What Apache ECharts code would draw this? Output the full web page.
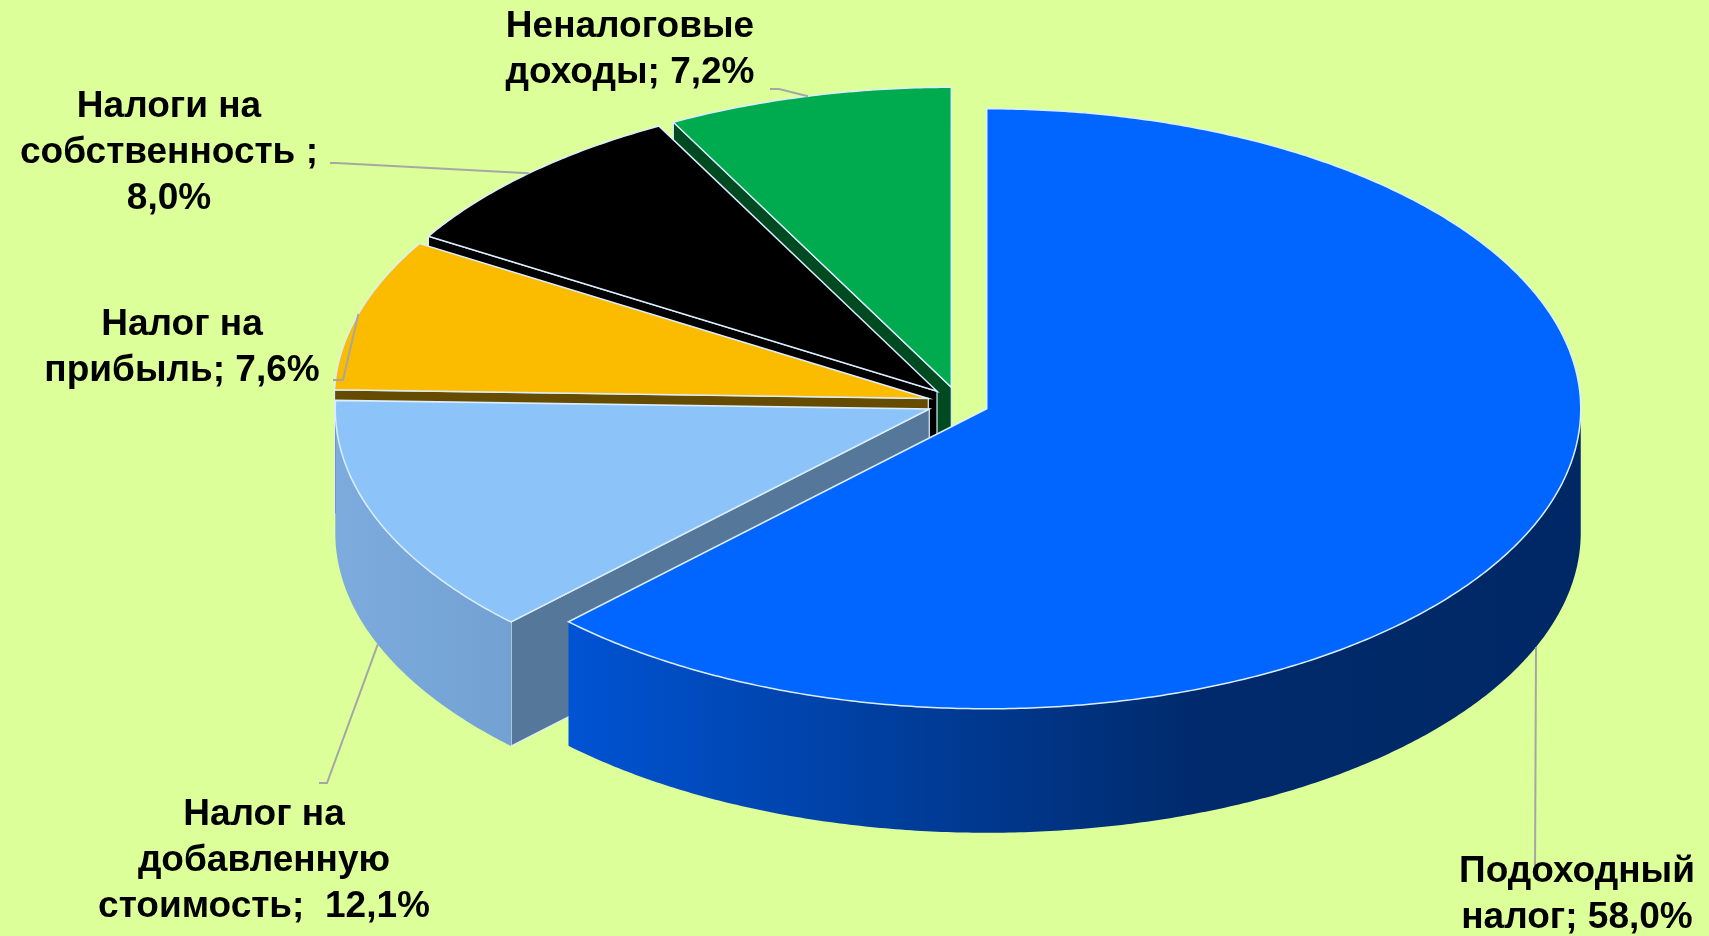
<!DOCTYPE html>
<html><head><meta charset="utf-8">
<script src="https://cdn.jsdelivr.net/npm/echarts@6/dist/echarts.min.js"></script>
<style>html,body{margin:0;padding:0;background:#dcff9a;}#c{width:1709px;height:936px;}</style>
</head><body><div id="c"></div>
<script>
// ---- data ----
const categories = ['Подоходный налог', 'Налог на добавленную стоимость', 'Налог на прибыль', 'Налоги на собственность ', 'Неналоговые доходы'];
const values = [58.0, 12.1, 7.6, 8.0, 7.2];
const labelNames = ['Подоходный\nналог; ', 'Налог на\nдобавленную\nстоимость;  ', 'Налог на\nприбыль; ', 'Налоги на\nсобственность ;\n', 'Неналоговые\nдоходы; '];

// ---- layout / style config ----
const CX = 959, CY = 403, RX = 594, RY = 300, H = 124;
const explode = [30, 32, 32, 32, 32];
const topColors = ['#0066ff', '#8cc4fa', '#fbbc00', '#000000', '#00aa4f'];
const cutColors = ['#1a4aa0', '#557799', '#664c00', '#000000', '#004a22'];
const wallColors = [
  [[0, '#0053d4'], [0.35, '#003c98'], [0.62, '#002a6c'], [1, '#002865']],
  [[0, '#7dabde'], [1, '#72a1d2']],
  [[0, '#b58a00'], [1, '#9a7500']],
  [[0, '#000000'], [1, '#000000']],
  [[0, '#007a38'], [1, '#006a30']]
];
const labelAnchors = [[1577, 872], [264, 815], [182, 325], [169, 107], [630, 27]];
const leaderTails = [[[1535, 877]], [[327, 783], [319, 783]], [[343, 380], [333, 380]], [[336, 163], [330, 163]], [[779, 89], [770, 89]]];
const LH = 46;

const total = values.reduce((a, b) => a + b, 0);
const cum = []; let acc = 0; values.forEach(v => { cum.push(acc); acc += v; });
const TAU = Math.PI * 2, DEG = Math.PI / 180;

function pt(c, t, dz) { return [c[0] + RX * Math.sin(t), c[1] - RY * Math.cos(t) + (dz || 0)]; }
function arc(c, a, b, dz) {
  const n = Math.max(2, Math.ceil((b - a) / (0.5 * DEG)));
  const out = [];
  for (let k = 0; k <= n; k++) out.push(pt(c, a + (b - a) * k / n, dz));
  return out;
}
function meanY(pts) { return pts.reduce((s, p) => s + p[1], 0) / pts.length; }

function renderItem(params, api) {
  const i = params.dataIndex;
  const v = api.value(0);
  const a0 = cum[i] / total * TAU, a1 = (cum[i] + v) / total * TAU, m = (a0 + a1) / 2;
  const d = explode[i];
  const c = [CX + d * Math.sin(m), CY - d * Math.cos(m) * RY / RX];
  const cb = [c[0], c[1] + H];
  const children = [];
  const edge = '#dbeeff';
  // outer wall
  const wa = Math.max(a0, 90 * DEG), wb = Math.min(a1, 270 * DEG);
  if (wa < wb) {
    const pts = arc(c, wa, wb, 0).concat(arc(c, wa, wb, H).reverse());
    children.push({
      type: 'polygon', shape: { points: pts }, z2: Math.round(meanY(pts)) + 60,
      style: { fill: { type: 'linear', x: 0, y: 0, x2: 1, y2: 0, colorStops: wallColors[i].map(s => ({ offset: s[0], color: s[1] })) }, stroke: null }
    });
  }
  // cut faces
  if (Math.sin(a0) < -1e-6) {
    const p = pt(c, a0, 0);
    const pts = [c, p, [p[0], p[1] + H], cb];
    children.push({ type: 'polygon', shape: { points: pts }, z2: Math.round(meanY(pts)),
      style: { fill: cutColors[i], stroke: edge, lineWidth: 1.2 } });
  }
  if (Math.sin(a1) > 1e-6) {
    const p = pt(c, a1, 0);
    const pts = [c, p, [p[0], p[1] + H], cb];
    children.push({ type: 'polygon', shape: { points: pts }, z2: Math.round(meanY(pts)),
      style: { fill: cutColors[i], stroke: edge, lineWidth: 1.2 } });
  }
  // top face
  const top = [c].concat(arc(c, a0, a1, 0));
  children.push({ type: 'polygon', shape: { points: top }, z2: 5000,
    style: { fill: topColors[i], stroke: edge, lineWidth: 1.5 } });
  // leader line
  const front = Math.cos(m) < 0;
  const att = pt(c, m, front ? H : 0);
  children.push({ type: 'polyline', shape: { points: [att].concat(leaderTails[i]) }, z2: 6000,
    style: { stroke: '#a6a6a6', lineWidth: 2, fill: null } });
  // label
  const txt = labelNames[i] + v.toFixed(1).replace('.', ',') + '%';
  children.push({ type: 'text', z2: 6001, style: {
    text: txt, x: labelAnchors[i][0], y: labelAnchors[i][1] - LH / 2,
    align: 'center', verticalAlign: 'top', lineHeight: LH,
    fill: '#000000', fontSize: 37, fontWeight: 'bold', fontFamily: '"Liberation Sans", Arial, sans-serif'
  } });
  return { type: 'group', children: children };
}

const chart = echarts.init(document.getElementById('c'), null, { renderer: 'canvas' });
chart.setOption({
  backgroundColor: '#dcff9a',
  animation: false,
  series: [{
    type: 'custom',
    coordinateSystem: 'none',
    renderItem: renderItem,
    data: values.map((v, i) => ({ name: categories[i], value: [v] }))
  }]
});
</script>
</body></html>
